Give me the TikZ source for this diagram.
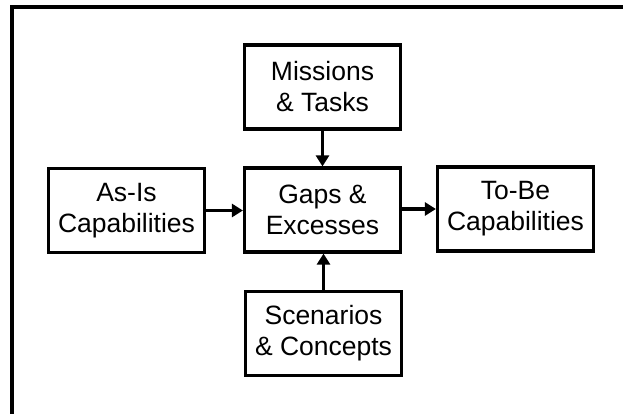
\documentclass[tikz,border=0pt]{standalone}
\usepackage{fontspec}
\setmainfont{Liberation Sans}
\usetikzlibrary{arrows.meta}
\begin{document}
\begin{tikzpicture}[x=1pt,y=-1pt,
  box/.style={draw,line width=3.2pt,minimum width=156pt,minimum height=84pt,
    align=center,inner sep=0pt,font=\fontsize{26.5}{31}\selectfont},
  conn/.style={line width=3.2pt,-{Triangle[length=11pt,width=13pt]}},
  frameline/.style={line width=3.2pt}]
\useasboundingbox (0,0) rectangle (623,414);
\coordinate (fbl) at (12,416);
\coordinate (ftl) at (12,7);
\coordinate (ftr) at (625,7);
\draw[frameline] (fbl) -- (ftl) -- (ftr);
\node[box] (missions) at (322.5,87) {Missions\\\& Tasks};
\node[box] (gaps) at (322.5,210) {Gaps \&\\Excesses};
\node[box] (asis) at (126.5,210.5) {As-Is\\Capabilities};
\node[box] (tobe) at (515.5,209) {To-Be\\Capabilities};
\node[box] (scen) at (323.5,333.5) {Scenarios\\\& Concepts};
\draw[conn] (missions.south) -- (gaps.north);
\draw[conn] (scen.north) -- (scen.north |- gaps.south);
\draw[conn] (asis.east) -- (asis.east -| gaps.west);
\draw[conn] (gaps.east |- tobe.west) -- (tobe.west);
\end{tikzpicture}
\end{document}
